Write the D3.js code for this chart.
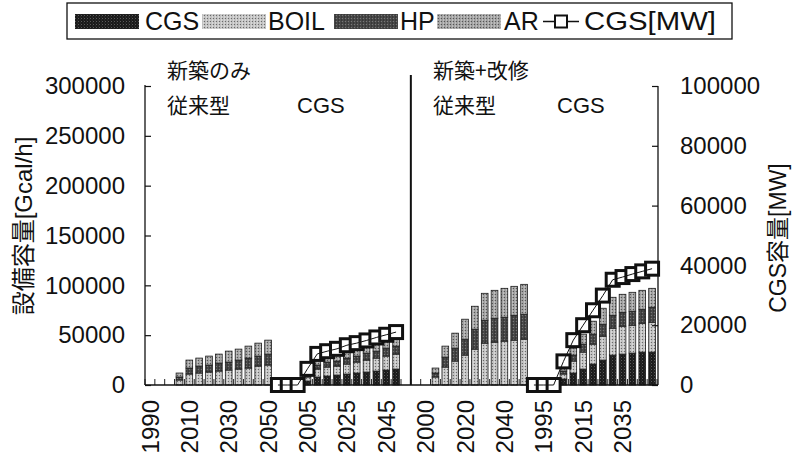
<!DOCTYPE html>
<html><head><meta charset="utf-8">
<script src="https://cdn.jsdelivr.net/npm/d3@7"></script>
<style>body{margin:0;background:#fff}svg{display:block}</style>
</head><body><svg id="c" width="793" height="465"></svg>
<script>
// ---- data ----
const years = [1990,1995,2000,2005,2010,2015,2020,2025,2030,2035,2040,2045,2050];
const groupNames = ["新築のみ・従来型","新築のみ・CGS","新築+改修・従来型","新築+改修・CGS"];
const xTickLabels = ["1990","2010","2030","2050","2005","2025","2045","2000","2020","2040","1995","2015","2035"];
const leftTicks = [0,50000,100000,150000,200000,250000,300000];
const rightTicks = [0,20000,40000,60000,80000,100000];
const seriesNames = ["CGS","BOIL","HP","AR"];
// Gcal/h, 52 categories (4 groups x 13 years)
const CGS = [0,0,0,0,0,0,0,0,0,0,0,0,0,
  0,0,0,4000,8000,9000,10000,11000,12000,13000,14000,15000,16000,
  0,0,0,0,0,0,0,0,0,0,0,0,0,
  0,0,0,6000,12000,16000,21000,25000,30000,31000,32000,33000,33000];
const BOIL = [0,0,0,5000,11000,12000,13000,14000,15000,16000,17000,19000,20000,
  0,0,0,4000,8000,9000,9000,10000,11000,12000,13000,14000,15000,
  0,0,0,8000,18000,24000,30000,36000,42000,43000,44000,45000,46000,
  0,0,0,5000,12000,17000,20000,24000,27000,28000,28000,29000,30000];
const HP = [0,0,0,3000,6000,7000,7000,8000,8000,9000,10000,10000,11000,
  0,0,0,2000,4000,5000,5000,6000,6000,7000,7000,8000,8000,
  0,0,0,4000,10000,13000,16000,20000,23000,24000,24000,25000,25000,
  0,0,0,3000,6000,8000,10000,12000,13000,14000,14000,14000,15000];
const AR = [0,0,0,4000,8000,8000,9000,9000,11000,11000,12000,13000,14000,
  0,0,0,2000,5000,5000,6000,6000,7000,7000,8000,8000,10000,
  0,0,0,5000,11000,15000,20000,23000,27000,28000,29000,29000,30000,
  0,0,0,3000,7000,10000,13000,16000,18000,18000,19000,19000,19000];
// MW (right axis)
const CGS_MW = [null,null,null,null,null,null,null,null,null,null,null,null,null,
  0,0,0,5400,10400,11300,12100,13300,14000,14900,15900,16800,17700,
  null,null,null,null,null,null,null,null,null,null,null,null,null,
  0,0,0,7900,15000,20000,25000,29900,35200,36100,37100,38000,38900];

// ---- build ----
const cats = groupNames.flatMap((g,gi)=>years.map((y,yi)=>gi*years.length+yi));
const rows = cats.map(i=>({i, CGS:CGS[i], BOIL:BOIL[i], HP:HP[i], AR:AR[i], mw:CGS_MW[i]}));

const svg = d3.select("#c");
const L = 145, R = 657, T = 86, B = 385;
const numFont = "'Liberation Sans', Arial, sans-serif";
const jpFont = "'Liberation Sans', 'Noto Sans CJK JP', sans-serif";

const x = d3.scaleBand().domain(cats).range([L,R]).paddingInner(0.32).paddingOuter(0.16);
const yL = d3.scaleLinear().domain([0,300000]).range([B,T]);
const yR = d3.scaleLinear().domain([0,100000]).range([B,T]);
const step = x.step();

// patterns
const defs = svg.append("defs");
function pattern(id, base, dot, dot2){
  const p = defs.append("pattern").attr("id",id).attr("patternUnits","userSpaceOnUse").attr("width",3).attr("height",3);
  p.append("rect").attr("width",3).attr("height",3).attr("fill",base);
  p.append("rect").attr("x",0).attr("y",0).attr("width",1).attr("height",1).attr("fill",dot);
  p.append("rect").attr("x",2).attr("y",1.5).attr("width",1).attr("height",1).attr("fill",dot2);
}
pattern("pCGS","#1b1b1b","#5a5a5a","#333");
pattern("pBOIL","#c2c2c2","#6a6a6a","#efefef");
pattern("pHP","#474747","#777","#262626");
pattern("pAR","#a2a2a2","#555","#dcdcdc");
const fills = {CGS:"url(#pCGS)",BOIL:"url(#pBOIL)",HP:"url(#pHP)",AR:"url(#pAR)"};

// category boundary ticks on x axis (inside)
const tickG = svg.append("g");
d3.range(cats.length+1).forEach(k=>{
  tickG.append("line").attr("x1",L+k*step).attr("x2",L+k*step).attr("y1",B).attr("y2",B-6)
    .attr("stroke","#222").attr("stroke-width",1);
});

// stacked bars
const stack = d3.stack().keys(seriesNames)(rows);
svg.append("g").selectAll("g").data(stack).join("g")
  .attr("fill", d=>fills[d.key])
  .selectAll("rect").data(d=>d.filter(s=>s[1]-s[0]>0)).join("rect")
  .attr("x", d=>x(d.data.i)).attr("width", x.bandwidth())
  .attr("y", d=>yL(d[1])).attr("height", d=>yL(d[0])-yL(d[1]))
  .attr("stroke","#1a1a1a").attr("stroke-width",0.8);

// axes lines
const axG = svg.append("g").attr("stroke","#111").attr("stroke-width",1.3);
axG.append("line").attr("x1",L).attr("x2",L).attr("y1",yL(300000)-1).attr("y2",B);
axG.append("line").attr("x1",R+1).attr("x2",R+1).attr("y1",yR(100000)).attr("y2",B);
axG.append("line").attr("x1",L).attr("x2",R+1).attr("y1",B).attr("y2",B);

// left axis
const la = svg.append("g").attr("transform",`translate(${L},0)`)
  .call(d3.axisRight(yL).tickValues(leftTicks).tickSize(6).tickFormat(d=>d));
la.select(".domain").remove();
la.selectAll(".tick line").attr("stroke","#111").attr("stroke-width",1.2);
la.selectAll(".tick text").attr("x",-20).attr("text-anchor","end").attr("font-size",24)
  .attr("font-family",numFont).attr("fill","#111");

// right axis
const ra = svg.append("g").attr("transform",`translate(${R+1},0)`)
  .call(d3.axisLeft(yR).tickValues(rightTicks).tickSize(6).tickFormat(d=>d));
ra.select(".domain").remove();
ra.selectAll(".tick line").attr("stroke","#111").attr("stroke-width",1.2);
ra.selectAll(".tick text").attr("x",22).attr("text-anchor","start").attr("font-size",24)
  .attr("font-family",numFont).attr("fill","#111");

// bottom labels
const xa = svg.append("g").attr("transform",`translate(0,${B})`)
  .call(d3.axisBottom(x).tickValues(cats.filter(i=>i%4===0)).tickSize(0)
    .tickFormat(i=>xTickLabels[i/4]));
xa.select(".domain").remove();
xa.selectAll(".tick text").attr("transform","rotate(-90)").attr("text-anchor","end")
  .attr("x",-15).attr("y",0).attr("dy","0.36em").attr("font-size",24)
  .attr("font-family",numFont).attr("fill","#111");

// divider line
svg.append("line").attr("x1",L+27*step).attr("x2",L+27*step).attr("y1",75).attr("y2",B)
  .attr("stroke","#111").attr("stroke-width",2);

// CGS[MW] markers + line
const mwPts = rows.filter(d=>d.mw!==null);
svg.append("g").selectAll("rect").data(mwPts).join("rect")
  .attr("x", d=>x(d.i)+x.bandwidth()/2-6.5).attr("y", d=>yR(d.mw)-6.5)
  .attr("width",13).attr("height",13).attr("fill","#fff")
  .attr("stroke","#111").attr("stroke-width",3);
const line = d3.line().defined(d=>d.mw!==null)
  .x(d=>x(d.i)+x.bandwidth()/2).y(d=>yR(d.mw));
svg.append("path").datum(rows).attr("d",line).attr("fill","none")
  .attr("stroke","#111").attr("stroke-width",1);

// annotations
const ann = svg.append("g").attr("font-family","'Noto Sans CJK JP', sans-serif").attr("font-size",21).attr("fill","#111");
ann.append("text").attr("x",167).attr("y",78).text("新築のみ");
ann.append("text").attr("x",167).attr("y",113).text("従来型");
ann.append("text").attr("x",297).attr("y",113).attr("font-family",numFont).attr("font-size",22).text("CGS");
ann.append("text").attr("x",433).attr("y",78).text("新築+改修");
ann.append("text").attr("x",433).attr("y",113).text("従来型");
ann.append("text").attr("x",557).attr("y",113).attr("font-family",numFont).attr("font-size",22).text("CGS");

// axis titles
svg.append("text").attr("transform","translate(32,226) rotate(-90)").attr("text-anchor","middle")
  .attr("font-family",jpFont).attr("font-size",24).attr("fill","#111").text("設備容量[Gcal/h]");
svg.append("text").attr("transform","translate(786,238) rotate(-90)").attr("text-anchor","middle")
  .attr("font-family",jpFont).attr("font-size",23).attr("fill","#111").text("CGS容量[MW]");

// legend
const lg = svg.append("g");
lg.append("rect").attr("x",67).attr("y",3).attr("width",665).attr("height",36)
  .attr("fill","#fff").attr("stroke","#111").attr("stroke-width",1.3);
const legItems = [
  {k:"CGS", sx:75, tx:145},
  {k:"BOIL", sx:202, tx:268},
  {k:"HP", sx:334, tx:400},
  {k:"AR", sx:437, tx:504}
];
legItems.forEach(it=>{
  lg.append("rect").attr("x",it.sx).attr("y",14).attr("width",64).attr("height",15)
    .attr("fill",fills[it.k]);
  lg.append("text").attr("x",it.tx).attr("y",30).attr("font-family",numFont)
    .attr("font-size",25).attr("fill","#111").text(it.k);
});
lg.append("line").attr("x1",543).attr("x2",579).attr("y1",21.5).attr("y2",21.5).attr("stroke","#111").attr("stroke-width",1.3);
lg.append("rect").attr("x",555).attr("y",15.5).attr("width",12).attr("height",12)
  .attr("fill","#fff").attr("stroke","#111").attr("stroke-width",2);
lg.append("text").attr("x",584).attr("y",30).attr("font-family",numFont)
  .attr("font-size",25).attr("fill","#111")
  .attr("textLength",132).attr("lengthAdjust","spacingAndGlyphs").text("CGS[MW]");
</script></body></html>
